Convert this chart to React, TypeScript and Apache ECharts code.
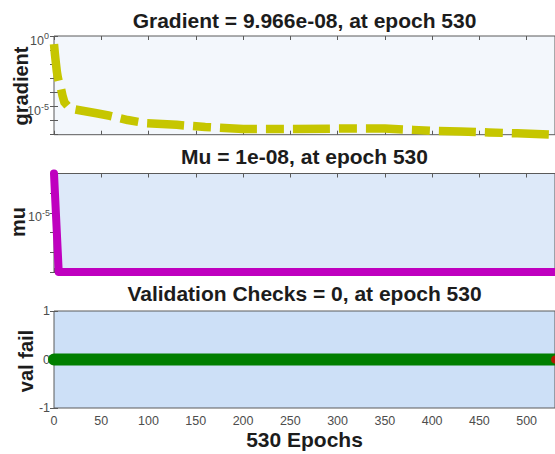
import { useEffect, useRef } from "react";
import * as echarts from "echarts";

// Training record: performance gradient per epoch
const gradientEpochs = [0, 1, 2, 3, 4, 5, 7, 9, 11, 15, 20, 30, 45, 59, 78, 98, 130, 160, 200, 250, 300, 350, 380, 400, 430, 460, 490, 530];
const gradientValues = [0.27, 0.05, 0.012, 3e-3, 1.2e-3, 6e-4, 2.5e-4, 6e-5, 2e-5, 1e-5, 6.6e-6, 5e-6, 3.3e-6, 2.2e-6, 1.1e-6, 6.4e-7, 5e-7, 3.5e-7, 2.5e-7, 2.5e-7, 2.7e-7, 2.7e-7, 2.2e-7, 1.9e-7, 1.7e-7, 1.45e-7, 1.25e-7, 9.966e-8];

// Levenberg-Marquardt mu per epoch
const muEpochs = [0, 1, 2, 3, 4, 5, 530];
const muValues = [1e-3, 1e-4, 1e-5, 1e-6, 1e-7, 1e-8, 1e-8];

// Validation failures per epoch
const valEpochs = [0, 530];
const valChecks = [0, 0];
const finalCheck = [530, 0];

// Axis ranges and labels
const epochMax = 530;
const epochStep = 50;
const gradientRange = [1e-7, 1];
const gradientLabelExps = [0, -5];
const muRange = [1e-8, 1e-3];
const muLabelExps = [-5];
const valRange = [-1, 1];

const titles = [
  "Gradient = 9.966e-08, at epoch 530",
  "Mu = 1e-08, at epoch 530",
  "Validation Checks = 0, at epoch 530",
];
const yNames = ["gradient", "mu", "val fail"];
const xName = "530 Epochs";

const FONT = '"Liberation Sans", Arial, Helvetica, sans-serif';
const TICK_COLOR = "#4d4d4d";
const BORDER_COLOR = "#5a5a5a";
const TEXT_COLOR = "#1c1c1c";

const grids = [
  { left: 54, top: 36, width: 501.5, height: 98.7, bg: "#f3f7fc" },
  { left: 54, top: 173.5, width: 501.5, height: 98.5, bg: "#dde9f9" },
  { left: 54, top: 311, width: 501.5, height: 97, bg: "#cde0f7" },
];
const titleY = [20, 156, 293];
const nameX = [21, 18, 25.5];
const nameY = [86, 222, 361];

const powerLabel = (exps: number[]) => (v: number) => {
  const e = Math.round(Math.log10(v));
  return exps.includes(e) ? `{b|10}{s|${e}}` : "";
};

const powerRich = {
  b: { fontSize: 12.5, fontFamily: FONT, color: TICK_COLOR, verticalAlign: "bottom" },
  s: { fontSize: 9, fontFamily: FONT, color: TICK_COLOR, lineHeight: 22 },
};

export default function App() {
  const ref = useRef<HTMLDivElement>(null);

  useEffect(() => {
    if (!ref.current) return;
    const chart = echarts.init(ref.current, undefined, { renderer: "svg" });

    const tick = { inside: true, length: 4, lineStyle: { color: BORDER_COLOR, width: 1 } };

    const xAxis: any[] = [];
    grids.forEach((_, i) => {
      const base = {
        type: "value",
        gridIndex: i,
        min: 0,
        max: epochMax,
        interval: epochStep,
        axisLine: { show: false },
        axisTick: tick,
        splitLine: { show: false },
      };
      xAxis.push({
        ...base,
        position: "bottom",
        axisLabel: {
          show: i === 2,
          margin: 6,
          fontSize: 12.5,
          fontFamily: FONT,
          color: TICK_COLOR,
          showMaxLabel: false,
          formatter: (v: number) => (v % epochStep === 0 ? String(v) : ""),
        },
      });
      xAxis.push({ ...base, position: "top", axisLabel: { show: false } });
    });

    const yAxis: any[] = [];
    const ySpecs = [
      {
        type: "log",
        logBase: 10,
        min: gradientRange[0],
        max: gradientRange[1],
        axisLabel: { margin: 5, formatter: powerLabel(gradientLabelExps), rich: powerRich },
      },
      {
        type: "log",
        logBase: 10,
        min: muRange[0],
        max: muRange[1],
        axisLabel: { margin: 4, formatter: powerLabel(muLabelExps), rich: powerRich },
      },
      {
        type: "value",
        min: valRange[0],
        max: valRange[1],
        interval: 1,
        axisLabel: { margin: 4, fontSize: 12.5, fontFamily: FONT, color: TICK_COLOR },
      },
    ];
    ySpecs.forEach((spec, i) => {
      const base = {
        ...spec,
        gridIndex: i,
        axisLine: { show: false },
        axisTick: tick,
        splitLine: { show: false },
        minorTick: { show: false },
      };
      yAxis.push({ ...base, position: "left" });
      yAxis.push({ ...base, position: "right", axisLabel: { show: false } });
    });

    const graphic: any[] = [];
    titles.forEach((t, i) => {
      graphic.push({
        type: "text",
        x: 304.5,
        y: titleY[i],
        style: {
          text: t,
          fontSize: 21,
          fontWeight: "bold",
          fontFamily: FONT,
          fill: TEXT_COLOR,
          align: "center",
          verticalAlign: "middle",
        },
      });
    });
    yNames.forEach((t, i) => {
      graphic.push({
        type: "text",
        x: nameX[i],
        y: nameY[i],
        rotation: Math.PI / 2,
        style: {
          text: t,
          fontSize: 20,
          fontWeight: "bold",
          fontFamily: FONT,
          fill: TEXT_COLOR,
          align: "center",
          verticalAlign: "middle",
        },
      });
    });
    graphic.push({
      type: "text",
      x: 304.5,
      y: 439.5,
      style: {
        text: xName,
        fontSize: 21,
        fontWeight: "bold",
        fontFamily: FONT,
        fill: TEXT_COLOR,
        align: "center",
        verticalAlign: "middle",
      },
    });

    chart.setOption({
      animation: false,
      backgroundColor: "#ffffff",
      grid: grids.map((g) => ({
        left: g.left,
        top: g.top,
        width: g.width,
        height: g.height,
        show: true,
        backgroundColor: g.bg,
        borderColor: BORDER_COLOR,
        borderWidth: 1,
      })),
      xAxis,
      yAxis,
      graphic,
      series: [
        {
          type: "line",
          xAxisIndex: 0,
          yAxisIndex: 0,
          data: gradientEpochs.map((e, i) => [e, gradientValues[i]]),
          showSymbol: false,
          clip: false,
          lineStyle: { color: "#c6c600", width: 8.5, type: [37, 9, 18, 9], cap: "butt", join: "round" },
        },
        {
          type: "line",
          xAxisIndex: 2,
          yAxisIndex: 2,
          data: muEpochs.map((e, i) => [e, muValues[i]]),
          showSymbol: false,
          clip: false,
          lineStyle: { color: "#bf00bf", width: 8, cap: "round", join: "round" },
        },
        {
          type: "line",
          xAxisIndex: 4,
          yAxisIndex: 4,
          data: valEpochs.map((e, i) => [e, valChecks[i]]),
          showSymbol: false,
          clip: false,
          lineStyle: { color: "#007f00", width: 12, cap: "round", join: "round" },
        },
        {
          type: "scatter",
          xAxisIndex: 4,
          yAxisIndex: 4,
          data: [finalCheck],
          symbol: "circle",
          symbolSize: 8,
          clip: false,
          z: 5,
          itemStyle: { color: "#e00000" },
        },
      ],
    });

    return () => chart.dispose();
  }, []);

  return (
    <div
      ref={ref}
      style={{ position: "fixed", left: 0, top: 0, width: 555, height: 454, background: "#fff" }}
    />
  );
}
